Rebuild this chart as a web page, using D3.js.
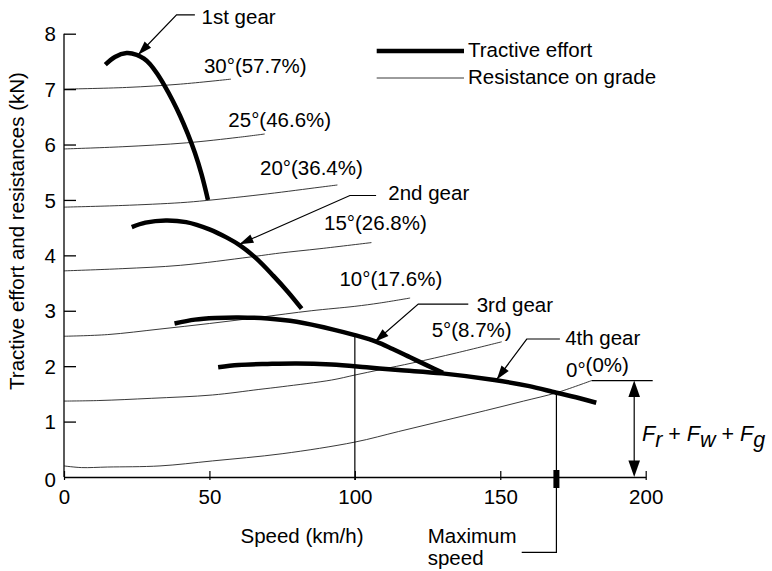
<!DOCTYPE html>
<html><head><meta charset="utf-8">
<script src="https://cdn.jsdelivr.net/npm/d3@7"></script>
<style>
body{margin:0;background:#fff}
svg{display:block}
text{font-family:"Liberation Sans",Arial,Helvetica,sans-serif;fill:#000}
</style>
</head><body>
<svg id="chart" width="772" height="571"></svg>
<script>
// ---------- data (speed km/h, force kN) ----------
const xTicks = [0, 50, 100, 150, 200];
const yTicks = [0, 1, 2, 3, 4, 5, 6, 7, 8];

const gear1 = [[14.2,7.44],[17.5,7.58],[21.5,7.65],[25,7.62],[27.5,7.55],[29.6,7.45],[32,7.28],[34.7,7.05],[37.3,6.8],[39.9,6.52],[42.5,6.2],[45,5.85],[47.3,5.46],[49.5,5.0]];
const gear2 = [[23.3,4.51],[28,4.59],[35,4.63],[42,4.6],[50,4.47],[56,4.32],[60.5,4.18],[66,3.95],[72,3.63],[77,3.34],[81.7,3.04]];
const gear3 = [[38,2.77],[45,2.84],[52,2.87],[60,2.88],[70,2.86],[80,2.8],[92.6,2.66],[100,2.56],[107.5,2.44],[113,2.31],[119,2.16],[125,2.01],[130.3,1.88]];
const gear4 = [[53,1.98],[60,2.02],[70,2.04],[80,2.05],[92,2.03],[104,1.98],[115,1.93],[130,1.87],[148,1.75],[160,1.64],[169.3,1.52],[176,1.44],[183,1.34]];
const gearNames = ["1st gear", "2nd gear", "3rd gear", "4th gear"];

const grade30 = [[0,7.0],[21.5,7.03],[40,7.09],[57.4,7.18]];
const grade25 = [[0,5.92],[20,5.96],[42,6.03],[60,6.13],[69,6.19]];
const grade20 = [[0,4.87],[20,4.9],[40,4.95],[49,4.99],[70,5.11],[88,5.23],[94,5.27]];
const grade15 = [[0,3.72],[20,3.76],[40,3.82],[64,3.97],[74,4.04],[88,4.12],[105.7,4.23]];
const grade10 = [[0,2.54],[15,2.57],[33,2.67],[50,2.77],[67,2.88],[85,3.0],[100,3.08],[108.6,3.14],[119,3.23]];
const grade5  = [[0,1.37],[12,1.38],[30,1.42],[51,1.48],[67,1.58],[75,1.63],[92,1.75],[100,1.84],[109,1.94],[120,2.06],[135,2.24],[150.5,2.44]];
const grade0  = [[0,0.2],[6,0.17],[15,0.18],[33,0.2],[51,0.29],[75,0.42],[100,0.63],[115,0.82],[130,1.01],[145,1.2],[158,1.37],[169.3,1.52],[181.4,1.74]];
const gradeLabels = ["30°(57.7%)","25°(46.6%)","20°(36.4%)","15°(26.8%)","10°(17.6%)","5°(8.7%)","0°(0%)"];

const maxSpeed = 169.3;       // km/h
const maxSpeedForce = 1.52;   // kN
const checkSpeed = 100;       // km/h
const checkForce = 2.56;      // kN (3rd gear at 100 km/h)
const totalResistance = 1.74; // kN at top of 0° curve

// ---------- layout ----------
const svg = d3.select("#chart");
const FS = 20.5;
const x = d3.scaleLinear().domain([0, 200]).range([64, 645.7]);
const y = d3.scaleLinear().domain([0, 8]).range([477, 33.7]);

const line = d3.line().x(d => x(d[0])).y(d => y(d[1])).curve(d3.curveCatmullRom.alpha(0.5));

// resistance lines
const grades = [grade30, grade25, grade20, grade15, grade10, grade5, grade0];
svg.append("g").selectAll("path").data(grades).join("path")
  .attr("d", line).attr("fill", "none").attr("stroke", "#222").attr("stroke-width", 0.9);

// gear curves
const gears = [gear1, gear2, gear3, gear4];
svg.append("g").selectAll("path").data(gears).join("path")
  .attr("d", line).attr("fill", "none").attr("stroke", "#000").attr("stroke-width", 4.5);

// axes
const yAxis = d3.axisLeft(y).tickValues(yTicks.filter(v => v > 0)).tickSizeInner(-12).tickSizeOuter(0).tickPadding(8);
const gy = svg.append("g").attr("transform", `translate(${x(0)},0)`).call(yAxis);
gy.select(".domain").attr("d", `M0,${y(8)}V${y(0)}`).attr("stroke-width", 1.3);
gy.selectAll(".tick line").attr("stroke-width", 1.3);
gy.selectAll("text").attr("font-size", FS).attr("font-family", null).attr("dy", "0.35em");

const xAxis = d3.axisBottom(x).tickValues(xTicks).tickSizeInner(3).tickSizeOuter(0).tickPadding(9.4);
const gx = svg.append("g").attr("transform", `translate(0,${y(0)})`).call(xAxis);
gx.select(".domain").attr("stroke-width", 1.3);
gx.selectAll(".tick line").attr("y1", -6).attr("y2", 3).attr("stroke-width", 1.2);
gx.selectAll("text").attr("font-size", FS).attr("font-family", null);
// y zero label
svg.append("text").attr("x", x(0) - 8).attr("y", y(0) + 3).attr("dy", "0.35em")
  .attr("text-anchor", "end").attr("font-size", FS).text(yTicks[0]);

// axis titles
svg.append("text").attr("x", 302).attr("y", 543).attr("text-anchor", "middle")
  .attr("font-size", FS).text("Speed (km/h)");
svg.append("text").attr("transform", "translate(24,231) rotate(-90)").attr("text-anchor", "middle")
  .attr("font-size", FS).text("Tractive effort and resistances (kN)");

// grade labels (anchor in data space)
const gradeLabelPos = [[48.1,7.29],[56.5,6.31],[67.4,5.45],[89.4,4.46],[94.7,3.45],[126.4,2.53],[172.6,1.8]];
gradeLabels.forEach((t, i) => {
  const p = gradeLabelPos[i];
  const tx = svg.append("text").attr("x", x(p[0])).attr("y", y(p[1])).attr("font-size", FS);
  if (i === 6) {
    tx.append("tspan").text(t.slice(0, 2));
    tx.append("tspan").attr("dy", -5).text(t.slice(2));
  } else tx.text(t);
});

// arrowhead helper
function arrowHead(tipX, tipY, fromX, fromY, len, half) {
  const a = Math.atan2(tipY - fromY, tipX - fromX);
  const bx = tipX - len * Math.cos(a), by = tipY - len * Math.sin(a);
  const px = -Math.sin(a) * half, py = Math.cos(a) * half;
  svg.append("path").attr("d", `M${tipX},${tipY}L${bx + px},${by + py}L${bx - px},${by - py}Z`).attr("fill", "#000");
}

// gear leaders: tip, elbow, end, label (data space)
const leaders = [
  {tip:[25.5,7.62], elbow:[38.7,8.34], end:[45.0,8.34], label:[47.3,8.18]},
  {tip:[60.3,4.20], elbow:[98.3,5.08], end:[107.3,5.08], label:[111.5,5.0]},
  {tip:[106.9,2.44], elbow:[121.8,3.12], end:[139.0,3.12], label:[141.9,2.98]},
  {tip:[148.8,1.76], elbow:[159.1,2.49], end:[170.5,2.49], label:[172.3,2.38]}
];
leaders.forEach((l, i) => {
  const tx = x(l.tip[0]), ty = y(l.tip[1]), ex = x(l.elbow[0]), ey = y(l.elbow[1]);
  svg.append("path").attr("d", `M${x(l.end[0])},${y(l.end[1])}L${ex},${ey}L${tx},${ty}`)
    .attr("fill", "none").attr("stroke", "#000").attr("stroke-width", 1.2);
  arrowHead(tx, ty, ex, ey, 14, 4.5);
  svg.append("text").attr("x", x(l.label[0])).attr("y", y(l.label[1])).attr("font-size", FS).text(gearNames[i]);
});

// 100 km/h check line
svg.append("line").attr("x1", x(checkSpeed)).attr("x2", x(checkSpeed))
  .attr("y1", y(checkForce)).attr("y2", y(0) + 3).attr("stroke", "#000").attr("stroke-width", 1.2);

// maximum speed
const mx = x(maxSpeed);
svg.append("path").attr("d", `M${mx},${y(maxSpeedForce)}V552.3H521.7`)
  .attr("fill", "none").attr("stroke", "#000").attr("stroke-width", 1.2);
svg.append("rect").attr("x", mx - 3).attr("y", 470).attr("width", 6).attr("height", 18).attr("fill", "#000");
svg.append("text").attr("x", 427.7).attr("y", 543).attr("font-size", FS).text("Maximum");
svg.append("text").attr("x", 427.7).attr("y", 565).attr("font-size", FS).text("speed");

// total resistance arrow
const ax = 634.2;
svg.append("line").attr("x1", x(181.4)).attr("x2", 652.7).attr("y1", y(totalResistance)).attr("y2", y(totalResistance))
  .attr("stroke", "#000").attr("stroke-width", 1.2);
svg.append("line").attr("x1", ax).attr("x2", ax).attr("y1", y(totalResistance) + 10).attr("y2", y(0) - 10)
  .attr("stroke", "#000").attr("stroke-width", 1.2);
arrowHead(ax, y(totalResistance), ax, y(0), 16.5, 5.8);
arrowHead(ax, y(0), ax, y(totalResistance), 16.5, 5.8);

const ft = svg.append("text").attr("x", 642).attr("y", 441).attr("font-size", 21.5).attr("font-style", "italic");
[["F",0],["r",6],[" + ",-6],["F",0],["w",6],[" + ",-6],["F",0],["g",6]].forEach(s => {
  ft.append("tspan").attr("dy", s[1]).attr("font-style", s[0].includes("+") ? "normal" : "italic").text(s[0]);
});

// legend
svg.append("line").attr("x1", 376.7).attr("x2", 464).attr("y1", 51).attr("y2", 51).attr("stroke", "#000").attr("stroke-width", 4.5);
svg.append("line").attr("x1", 376.7).attr("x2", 464).attr("y1", 78).attr("y2", 78).attr("stroke", "#222").attr("stroke-width", 0.9);
svg.append("text").attr("x", 468).attr("y", 57).attr("font-size", FS).text("Tractive effort");
svg.append("text").attr("x", 468).attr("y", 84).attr("font-size", FS).text("Resistance on grade");
</script>
</body></html>
